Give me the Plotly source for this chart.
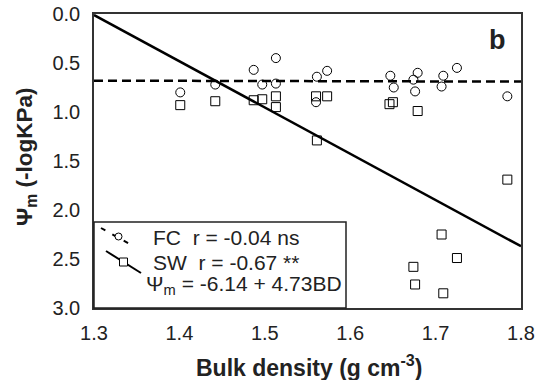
import plotly.graph_objects as go

# Field capacity (FC) points
fc_bd = [1.401, 1.442, 1.487, 1.497, 1.513, 1.513, 1.561, 1.560, 1.573,
         1.647, 1.651, 1.674, 1.676, 1.679, 1.709, 1.707, 1.725, 1.784]
fc_psi = [0.80, 0.72, 0.57, 0.72, 0.45, 0.71, 0.64, 0.90, 0.58,
          0.63, 0.75, 0.67, 0.79, 0.60, 0.63, 0.74, 0.55, 0.84]
# Wilting / SW points
sw_bd = [1.401, 1.442, 1.487, 1.497, 1.513, 1.513, 1.560, 1.561, 1.573,
         1.646, 1.650, 1.679, 1.784, 1.707, 1.725, 1.674, 1.676, 1.709]
sw_psi = [0.93, 0.89, 0.88, 0.87, 0.84, 0.95, 0.84, 1.29, 0.84,
          0.92, 0.90, 0.99, 1.69, 2.25, 2.49, 2.58, 2.76, 2.85]
# regression lines (endpoints)
fit_x = [1.3, 1.8]
fc_fit_y = [0.68, 0.69]
sw_fit_y = [0.01, 2.37]

x_ticks = [1.3, 1.4, 1.5, 1.6, 1.7, 1.8]
y_ticks = [0.0, 0.5, 1.0, 1.5, 2.0, 2.5, 3.0]

legend_labels = ["FC  r = -0.04 ns", "SW  r = -0.67 **",
                 "Ψ<sub>m</sub> = -6.14 + 4.73BD"]
x_title = "<b>Bulk density (g cm<sup>-3</sup>)</b>"
y_title = "<b>Ψ<sub>m</sub> (-logKPa)</b>"

FONT = "Liberation Sans, Arial, sans-serif"
TXT = "#222"
W, H = 542, 380
ML, MR, MT, MB = 94, 21, 14, 72
PW, PH = W - ML - MR, H - MT - MB


def px(x):  # pixel -> paper x
    return (x - ML) / PW


def py(y):  # pixel -> paper y
    return 1 - (y - MT) / PH


fig = go.Figure()
fig.add_trace(go.Scatter(x=fit_x, y=fc_fit_y, mode="lines",
                         line=dict(color="black", width=2.5, dash="9px,5px"),
                         hoverinfo="skip"))
fig.add_trace(go.Scatter(x=fit_x, y=sw_fit_y, mode="lines",
                         line=dict(color="black", width=2.5),
                         hoverinfo="skip"))
fig.add_trace(go.Scatter(x=fc_bd, y=fc_psi, mode="markers",
                         marker=dict(symbol="circle-open", size=9, color="black",
                                     line=dict(width=1))))
fig.add_trace(go.Scatter(x=sw_bd, y=sw_psi, mode="markers",
                         marker=dict(symbol="square-open", size=9, color="black",
                                     line=dict(width=1))))

shapes = [
    # legend box
    dict(type="rect", xref="paper", yref="paper", x0=0, x1=px(346), y0=0, y1=py(222),
         line=dict(color="#222", width=1.5), fillcolor="white", layer="above"),
    # FC key (dashed diagonal)
    dict(type="line", xref="paper", yref="paper", x0=px(101), y0=py(228), x1=px(135), y1=py(247),
         line=dict(color="black", width=2, dash="5px,8px"), layer="above"),
    dict(type="circle", xref="paper", yref="paper", x0=px(115), x1=px(122), y0=py(233), y1=py(240),
         line=dict(color="black", width=1), fillcolor="white", layer="above"),
    # SW key (solid diagonal)
    dict(type="line", xref="paper", yref="paper", x0=px(106), y0=py(251), x1=px(141), y1=py(273),
         line=dict(color="black", width=2), layer="above"),
    dict(type="rect", xref="paper", yref="paper", x0=px(119.5), x1=px(127.5), y0=py(258), y1=py(266),
         line=dict(color="black", width=1), fillcolor="white", layer="above"),
]

annotations = [
    dict(text=legend_labels[0], x=px(151), y=py(237), xref="paper", yref="paper",
         xanchor="left", yanchor="middle", showarrow=False, font=dict(size=21, color=TXT)),
    dict(text=legend_labels[1], x=px(151), y=py(262), xref="paper", yref="paper",
         xanchor="left", yanchor="middle", showarrow=False, font=dict(size=21, color=TXT)),
    dict(text=legend_labels[2], x=px(144), y=py(285), xref="paper", yref="paper",
         xanchor="left", yanchor="middle", showarrow=False, font=dict(size=21, color=TXT)),
    dict(text="<b>b</b>", x=px(497), y=py(40), xref="paper", yref="paper",
         xanchor="center", yanchor="middle", showarrow=False, font=dict(size=27, color=TXT)),
    dict(text=x_title, x=px(309), y=py(366), xref="paper", yref="paper",
         xanchor="center", yanchor="middle", showarrow=False, font=dict(size=23, color=TXT)),
    dict(text=y_title, x=px(26), y=py(157), xref="paper", yref="paper", textangle=-90,
         xanchor="center", yanchor="middle", showarrow=False, font=dict(size=22.5, color=TXT)),
]

fig.update_layout(
    width=W, height=H,
    margin=dict(l=ML, r=MR, t=MT, b=MB),
    paper_bgcolor="white", plot_bgcolor="white",
    font=dict(family=FONT, size=20, color=TXT),
    showlegend=False,
    xaxis=dict(range=[1.3, 1.8], tickvals=x_ticks, tickformat=".1f",
               showgrid=False, zeroline=False, showline=True, linecolor="#333",
               linewidth=1.5, mirror=True, ticks="", ticklabelstandoff=6,
               automargin=False),
    yaxis=dict(range=[3.0, 0.0], tickvals=y_ticks, tickformat=".1f",
               showgrid=False, zeroline=False, showline=True, linecolor="#333",
               linewidth=1.5, mirror=True, ticks="", ticklabelstandoff=8,
               automargin=False),
    shapes=shapes,
    annotations=annotations,
)

fig.write_html("out.html")
